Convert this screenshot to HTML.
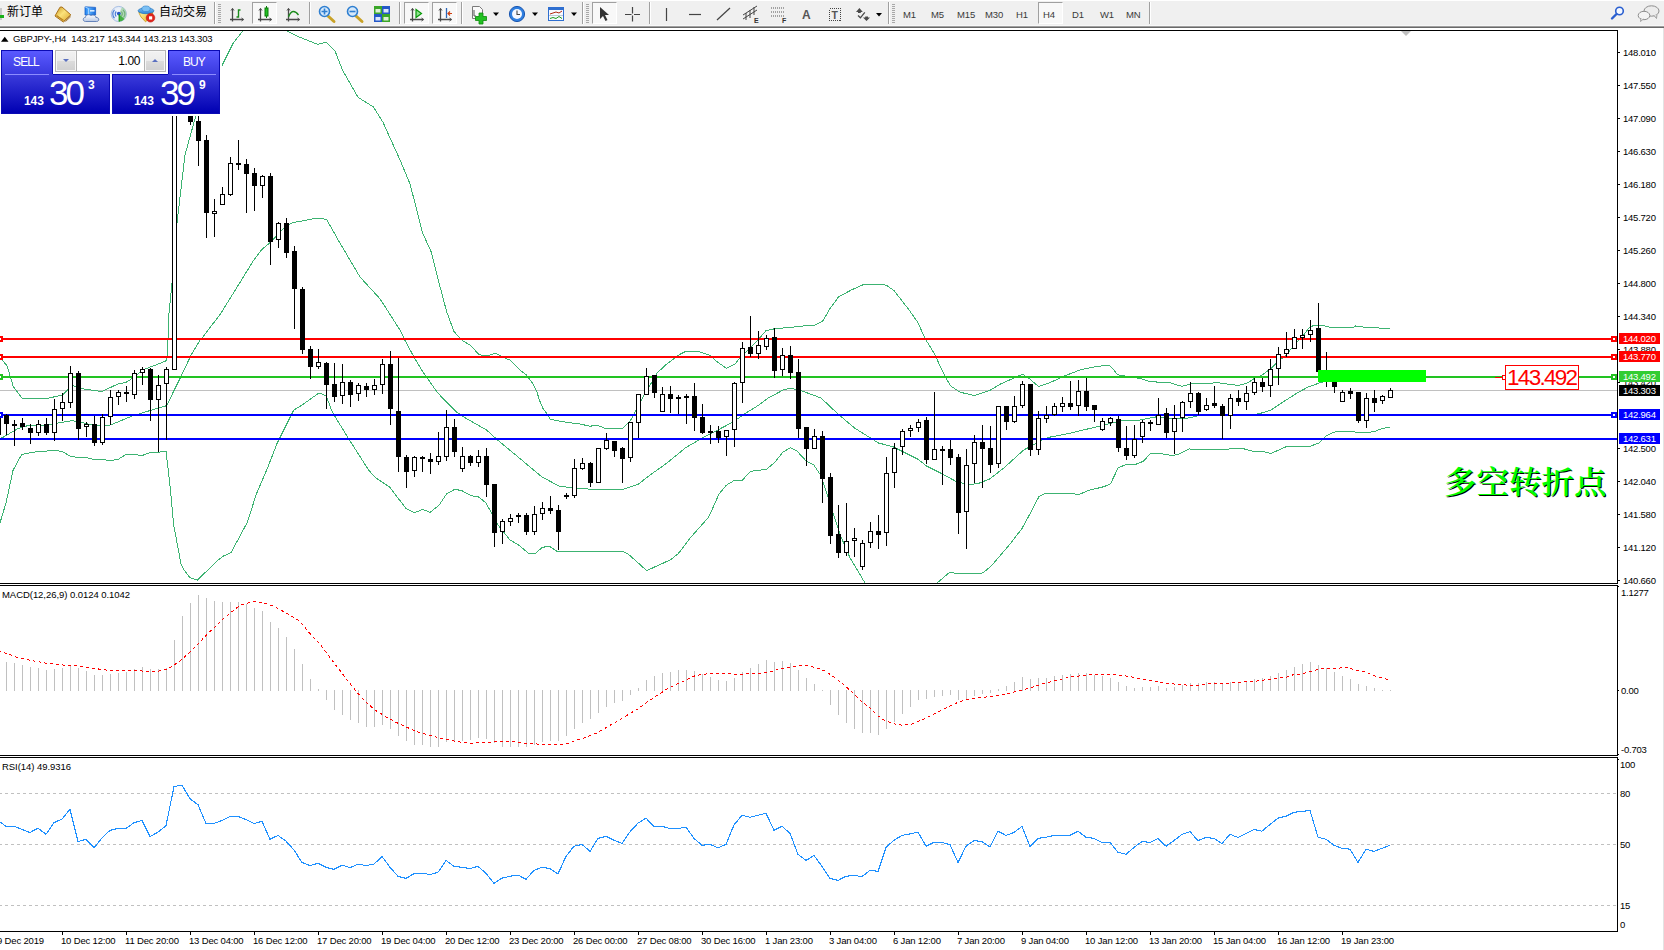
<!DOCTYPE html>
<html><head><meta charset="utf-8"><title>GBPJPY H4</title>
<style>
html,body{margin:0;padding:0}
body{width:1664px;height:950px;position:relative;overflow:hidden;background:#fff;font-family:"Liberation Sans","Noto Sans CJK SC",sans-serif}
#tb{position:absolute;left:0;top:0;width:1664px;height:28px;background:linear-gradient(#fff 0,#fff 1px,#f0f0f0 1px,#f0f0f0 25px,#f7f7f7 25px,#f7f7f7 26px,#a0a0a0 26px,#a0a0a0 27px,#696969 27px,#696969 28px)}
#tb .sep{position:absolute;top:2px;width:1px;height:22px;background:#a0a0a0;box-shadow:1px 0 0 #fff}
#tb .grip{position:absolute;top:4px;width:3px;height:19px;background:repeating-linear-gradient(#a8a8a8 0,#a8a8a8 1px,transparent 1px,transparent 2px)}
#tb .pr{position:absolute;top:2px;height:22px;box-sizing:border-box;border:1px solid #a0a0a0;border-right-color:#fff;border-bottom-color:#fff;background:#f8f8f8}
#tb .cn{position:absolute;font-size:12px;line-height:14px;color:#000;font-family:"Liberation Sans","Noto Sans CJK SC",sans-serif;white-space:nowrap}
#tb .pd{position:absolute;top:9px;font-size:9.5px;line-height:12px;color:#3a3a3a;letter-spacing:-.12px;white-space:nowrap}
#tb .ic{position:absolute;line-height:1;color:#333}
#tx{position:absolute;left:0;top:0;width:1664px;height:950px;pointer-events:none}
.t{position:absolute;white-space:nowrap;color:#000;font-size:9.5px;line-height:12px;letter-spacing:-.23px}
.t.wh{color:#fff;line-height:12px;height:11px;width:37px;padding-left:4px;overflow:hidden}
.t.tm{letter-spacing:-.17px}
.t.ind{letter-spacing:-.05px}
.t.ttl{letter-spacing:-.13px}
.t.big{font-size:22.5px;line-height:25px;color:#ff0000;letter-spacing:-1.7px}
.t.zh{font-family:"Liberation Serif","Noto Serif CJK SC",serif;font-weight:600;font-size:32.5px;line-height:44px;color:#00ff00;text-shadow:1px 1px 0 #000;letter-spacing:0;transform:scaleY(.94);transform-origin:0 0}
.tri{display:none}
#oc{position:absolute;left:0;top:0;width:222px;height:116px}
#oc:before{content:"";position:absolute;left:0;top:47px;width:222px;height:69px;background:#fff}
#oc .sell,#oc .buy{position:absolute;top:50px;height:25px;width:52px;box-sizing:border-box;border:1px solid #0a0ab4;border-bottom:none;background:linear-gradient(#5a5aff,#3838de);color:#fff;font-size:12px;text-align:center;line-height:22px;letter-spacing:-.9px}
#oc .sell{left:1px;text-indent:-2px}#oc .buy{left:168px}
#oc .pl,#oc .prr{position:absolute;top:74px;height:40px;box-sizing:border-box;border:1px solid #0a0ab4;border-top:none;background:linear-gradient(#3c3cdc,#0000b2);color:#fff}
#oc .pl{left:1px;width:109px}#oc .prr{left:112px;width:108px}
#oc .pl:before{content:"";position:absolute;left:51px;right:-1px;top:0;height:1px;background:#0a0ab4}
#oc .prr:before{content:"";position:absolute;left:-1px;width:56px;top:0;height:1px;background:#0a0ab4}
#oc .ul{position:absolute;top:74px;width:44px;height:1px;background:#8c8cff}
#oc .sm{position:absolute;font-size:12px;font-weight:bold;bottom:5px;letter-spacing:-.1px}
#oc .bg{position:absolute;font-size:35px;bottom:3px;line-height:35px;letter-spacing:-3px}
#oc .sp{position:absolute;font-size:12px;font-weight:bold;top:4px}
#oc .pl .sm{left:22px}#oc .pl .bg{left:47px}#oc .pl .sp{left:86px}
#oc .prr .sm{left:21px}#oc .prr .bg{left:47px}#oc .prr .sp{left:86px}
#oc .spin{position:absolute;left:55px;top:50px;width:111px;height:22px;box-sizing:border-box;border:1px solid #b4b4b4;background:#fff}
#oc .sb{position:absolute;top:0;width:20px;height:20px;box-shadow:inset 0 0 0 1px #f6f6f6;background:linear-gradient(#f2f2f2 0,#ebebeb 50%,#dcdcdc 50%,#d0d0d0);border:0 solid #b4b4b4}
#oc .sb.l{left:0;border-right-width:1px}#oc .sb.r{right:0;border-left-width:1px}
#oc .sb i{position:absolute;left:7px;top:8px;width:0;height:0;border-left:3px solid transparent;border-right:3px solid transparent}
#oc .sb i.dn{border-top:3px solid #5a70c0}#oc .sb i.up{border-bottom:3px solid #5a70c0;top:8px}
#oc .val{position:absolute;left:21px;right:25px;top:0;height:20px;line-height:20px;text-align:right;font-size:12px;color:#000;letter-spacing:-.4px}

</style></head>
<body>
<div id="tb">
<!-- separators / grips -->
<div class="sep" style="left:214px"></div><div class="grip" style="left:218px"></div>
<div class="sep" style="left:309px"></div>
<div class="sep" style="left:399px"></div>
<div class="sep" style="left:461px"></div>
<div class="sep" style="left:582px"></div><div class="grip" style="left:586px"></div>
<div class="sep" style="left:649px"></div>
<div class="sep" style="left:888px"></div><div class="grip" style="left:892px"></div>
<div class="sep" style="left:1149px"></div>
<!-- pressed buttons -->
<div class="pr" style="left:252px;width:25px"></div>
<div class="pr" style="left:404px;width:25px"></div>
<div class="pr" style="left:432px;width:25px"></div>
<div class="pr" style="left:592px;width:25px"></div>
<div class="pr" style="left:1038px;width:25px"></div>
<!-- texts -->
<div class="cn" style="left:7px;top:5px">新订单</div>
<div class="cn" style="left:159px;top:5px">自动交易</div>
<div class="pd" style="left:903px">M1</div><div class="pd" style="left:931px">M5</div><div class="pd" style="left:957px">M15</div>
<div class="pd" style="left:985px">M30</div><div class="pd" style="left:1016px">H1</div><div class="pd" style="left:1043px">H4</div>
<div class="pd" style="left:1072px">D1</div><div class="pd" style="left:1100px">W1</div><div class="pd" style="left:1126px">MN</div>
<svg width="1664" height="28" viewBox="0 0 1664 28" style="position:absolute;left:0;top:0">
<!-- new order partial icon -->
<rect x="0" y="8" width="2" height="12" fill="#c8c8c8"/><rect x="0" y="15" width="4" height="3" fill="#18b018"/>
<!-- book icon -->
<defs>
<linearGradient id="gbk" x1="0" y1="0" x2="1" y2="1"><stop offset="0" stop-color="#c8921c"/><stop offset=".45" stop-color="#fbe27a"/><stop offset="1" stop-color="#d9a22a"/></linearGradient>
<linearGradient id="gbx" x1="0" y1="0" x2="1" y2="0"><stop offset="0" stop-color="#1f7ff0"/><stop offset=".35" stop-color="#58b0ff"/><stop offset="1" stop-color="#1668d8"/></linearGradient>
<linearGradient id="gcl" x1="0" y1="0" x2="0" y2="1"><stop offset="0" stop-color="#ffffff"/><stop offset="1" stop-color="#b8c8e4"/></linearGradient>
<radialGradient id="gsg" cx=".5" cy=".5" r=".5"><stop offset="0" stop-color="#ffffff"/><stop offset="1" stop-color="#dfe8f6"/></radialGradient>
<linearGradient id="ght" x1="0" y1="0" x2="0" y2="1"><stop offset="0" stop-color="#7cc0f4"/><stop offset="1" stop-color="#2f86d8"/></linearGradient>
<linearGradient id="gyl" x1="0" y1="0" x2="1" y2="1"><stop offset="0" stop-color="#fff3a0"/><stop offset="1" stop-color="#e8b020"/></linearGradient>
</defs>
<path d="M55 16 L60 7.200 L62 7 L70.800 14.800 L63.300 22 Z" fill="url(#gbk)" stroke="#a8701a" stroke-width="1"/>
<path d="M64 21.300 L70.300 15.600 M65.500 21.500 L70.800 16.600" stroke="#9a6414" stroke-width=".8" fill="none"/>
<path d="M56.500 15.500 L63.500 20.500" stroke="#b8801c" stroke-width="1.200" fill="none"/>
<!-- cloud/server icon -->
<path d="M85 6.800 L95.600 7.400 L95.600 15 L85 15 Z" fill="url(#gbx)" stroke="#1a62c8" stroke-width=".8"/>
<path d="M85 6.800 L88.500 8.500 L88.500 15" stroke="#9fd0ff" stroke-width="1" fill="none"/>
<rect x="90" y="10" width="4.500" height="1.600" fill="#d6ebff"/>
<path d="M85.500 21.500 C82.500 21.500 82.500 17.500 85.500 17.300 C85.500 14.500 89.500 13.800 91 15.800 C92.500 14.300 96 15.200 95.800 17.400 C99.500 17.200 99.800 21.500 96.500 21.500 Z" fill="url(#gcl)" stroke="#5878b4" stroke-width=".9"/>
<!-- signal icon -->
<circle cx="118.800" cy="14" r="7.600" fill="url(#gsg)" stroke="#a9c0e4" stroke-width="1"/>
<path d="M118.800 14 L118.800 21.600 A7.600 7.600 0 0 0 126.400 14 A7.600 7.600 0 0 0 122 7.100 Z" fill="#9fd0a0" opacity=".75"/>
<path d="M118.800 14 L118.800 21.600 A7.600 7.600 0 0 0 124.500 19 Z" fill="#44b044"/>
<path d="M114.500 9.800 A6 6 0 0 0 114.500 18.200 M116.300 11.500 A3.500 3.500 0 0 0 116.300 16.500" fill="none" stroke="#4a7fd8" stroke-width="1.200"/>
<path d="M123 9.800 A6 6 0 0 1 123.500 17.500 M121.300 11.500 A3.500 3.500 0 0 1 121.500 16" fill="none" stroke="#6fb07a" stroke-width="1.100"/>
<circle cx="118.800" cy="13.600" r="1.900" fill="#2858c8"/>
<path d="M119.300 14v7.500" stroke="#1e9a1e" stroke-width="1.200"/>
<!-- autotrading icon -->
<path d="M138.800 12.500 L153 12.500 L151 17 L145.500 21.800 L141 17 Z" fill="url(#gyl)" stroke="#c89a18" stroke-width=".8"/>
<ellipse cx="146" cy="10.800" rx="7.900" ry="2.900" fill="url(#ght)" stroke="#2a78c0" stroke-width=".8"/>
<ellipse cx="146" cy="8.800" rx="4.200" ry="2.800" fill="#7cc0f4" stroke="#3a8ad0" stroke-width=".7"/>
<circle cx="150.500" cy="17.800" r="4.300" fill="#e0241c" stroke="#c01810" stroke-width=".6"/><rect x="149" y="16.300" width="3.200" height="3.200" fill="#fff"/>
<!-- chart-type icons -->
<g stroke="#4a4a4a" stroke-width="1.3" fill="none">
<path d="M232.500 8.500V21.500M230 19.500H243.500"/><path d="M231 10.500l1.500-2 1.500 2M241.500 18l2 1.500-2 1.500" stroke-width="1"/>
<path d="M260.500 8.500V21.500M258 19.500H271.500"/><path d="M259 10.500l1.500-2 1.500 2M269.500 18l2 1.500-2 1.500" stroke-width="1"/>
<path d="M288.500 8.500V21.500M286 19.500H299.500"/><path d="M287 10.500l1.500-2 1.500 2M297.500 18l2 1.500-2 1.500" stroke-width="1"/>
<path d="M412.500 8.500V21.500M410 19.500H423.500"/><path d="M411 10.500l1.500-2 1.500 2M421.500 18l2 1.500-2 1.500" stroke-width="1"/>
<path d="M440.500 8.500V21.500M438 19.500H451.500"/><path d="M439 10.500l1.500-2 1.500 2M449.500 18l2 1.500-2 1.500" stroke-width="1"/>
</g>
<path d="M236.500 17h2v-7h2" stroke="#1a8a1a" stroke-width="1.4" fill="none"/>
<rect x="265" y="8" width="3" height="8" fill="#22c022" stroke="#0a7a0a" stroke-width="1"/><path d="M266.500 6v2M266.500 16v2" stroke="#0a7a0a"/>
<path d="M288.500 17c3-8 7-6 10-2" stroke="#1a8a1a" stroke-width="1.3" fill="none"/>
<polygon points="416,9.500 416,17.500 421.500,13.500" fill="#8fe08f" stroke="#0a9a0a" stroke-width="1.2"/>
<path d="M446.500 8v10" stroke="#2a66b8" stroke-width="1.3"/><path d="M452 13.500h-4M450 11.500l-2 2 2 2" stroke="#d04010" stroke-width="1.2" fill="none"/>
<!-- zoom in / out -->
<path d="M328 16l6 5.500" stroke="#c9a227" stroke-width="3" stroke-linecap="round"/><circle cx="324.500" cy="11.500" r="5" fill="#d6e9fb" stroke="#2f7fd0" stroke-width="1.6"/><path d="M321.500 11.500h6M324.500 8.500v6" stroke="#2f7fd0" stroke-width="1.6"/>
<path d="M356 16l6 5.500" stroke="#c9a227" stroke-width="3" stroke-linecap="round"/><circle cx="352.500" cy="11.500" r="5" fill="#d6e9fb" stroke="#2f7fd0" stroke-width="1.6"/><path d="M349.500 11.500h6" stroke="#2f7fd0" stroke-width="1.6"/>
<!-- tile -->
<rect x="374" y="6" width="8" height="8" fill="#3aa628"/><rect x="382" y="6" width="8" height="8" fill="#2458c8"/><rect x="374" y="14" width="8" height="8" fill="#2458c8"/><rect x="382" y="14" width="8" height="8" fill="#3aa628"/>
<rect x="375.500" y="9" width="5" height="3.500" fill="#dff0d8"/><rect x="383.500" y="9" width="5" height="3.500" fill="#dbe6fb"/><rect x="375.500" y="17" width="5" height="3.500" fill="#dbe6fb"/><rect x="383.500" y="17" width="5" height="3.500" fill="#dff0d8"/>
<!-- new chart -->
<path d="M472.500 6.500h7l3 3v9h-10z" fill="#fafafa" stroke="#7a7a7a"/><path d="M474 10v6h2" stroke="#555" fill="none"/>
<path d="M475.500 16.500h3.500v-3.500h4v3.500h3.500v4h-3.500v3.500h-4v-3.500h-3.500z" fill="#22c022" stroke="#0a8a0a" stroke-width=".8"/>
<polygon points="493,12.500 499,12.500 496,16" fill="#000"/>
<!-- clock -->
<circle cx="517" cy="14" r="7.600" fill="#2f7fe0" stroke="#1a56b0"/><circle cx="517" cy="14" r="5" fill="#f4f8ff"/><path d="M517 10.500v4h3" stroke="#444" stroke-width="1.1" fill="none"/>
<polygon points="532,12.500 538,12.500 535,16" fill="#000"/>
<!-- template -->
<rect x="548.500" y="7.500" width="15" height="13" fill="#f6f9ff" stroke="#2f6fd0"/><rect x="548.500" y="7.500" width="15" height="2.500" fill="#2f6fd0"/><path d="M550 14l3-1 3-1 3 1 3-2" stroke="#b02a10" fill="none"/><path d="M550 18.500l3-1 3 1 3-2 3 2" stroke="#1a9a1a" fill="none"/><path d="M549 15.500h14" stroke="#9ab" stroke-width=".6"/>
<polygon points="571,12.500 577,12.500 574,16" fill="#000"/>
<!-- cursor -->
<path d="M600 7v12l3-3 2.500 5 2-1-2.500-5h4z" fill="#333"/>
<!-- crosshair -->
<path d="M632.500 7v6.500M632.500 15.500v6M625 14.500h6.500M634 14.500h6" stroke="#444" stroke-width="1.200"/>
<!-- line tools -->
<path d="M666.500 8v13" stroke="#444" stroke-width="1.2"/><path d="M689 14.500h12" stroke="#444" stroke-width="1.2"/><path d="M717 20l13-12" stroke="#444" stroke-width="1.2"/>
<path d="M743 19l14-9M743 15l14-9M746 20v-7M750 18v-8M754 15v-8" stroke="#444" stroke-width="1"/>
<path d="M771 8h14M771 12h14M771 16h14" stroke="#555" stroke-width="1" stroke-dasharray="1,1"/>
<path d="M829.500 8.500h11v12h-11z" stroke="#444" fill="none" stroke-dasharray="1,1" shape-rendering="crispEdges"/>
<path d="M856 12l3.400-3.900 3.400 3.900h-2v.9h-2.800v-.9zM863 17.600l3.500 3.500 3.500-3.500h-2v-1h-2.800v1z" fill="#4a4a4a"/><path d="M858 15.500l2.400 2.300 4.400-5.500" stroke="#4a4a4a" stroke-width="1.300" fill="none"/>
<polygon points="876,13 882,13 879,16.500" fill="#000"/>
<!-- search -->
<circle cx="1619.500" cy="11" r="3.800" fill="#f4f8ff" stroke="#2a5fd0" stroke-width="1.600"/><path d="M1616.500 14l-4.500 4.500" stroke="#2a5fd0" stroke-width="2.400" stroke-linecap="round"/>
<!-- chat -->
<ellipse cx="1651.500" cy="11" rx="7.500" ry="5.200" fill="#ececec" stroke="#8e8e8e"/><path d="M1654 15.500l2.500 3 .5-4" fill="#e4e4e4" stroke="#8e8e8e" stroke-width=".8"/>
<ellipse cx="1644" cy="15.500" rx="5.800" ry="4.200" fill="#f4f4f4" stroke="#8e8e8e"/><path d="M1641 18.500l-.5 3 3-2.500" fill="#f4f4f4" stroke="#8e8e8e" stroke-width=".8"/>
</svg>
<div class="ic" style="left:754px;top:16.500px;font-size:7px;font-weight:bold">E</div>
<div class="ic" style="left:782px;top:17px;font-size:7px;font-weight:bold">F</div>
<div class="ic" style="left:802px;top:9px;font-size:12px;font-weight:bold;color:#555">A</div>
<div class="ic" style="left:831.500px;top:9.800px;font-size:10.500px;font-weight:bold;color:#555">T</div>
</div>

<svg width="1664" height="950" viewBox="0 0 1664 950" style="position:absolute;left:0;top:0"><defs><clipPath id="cm"><rect x="0" y="31" width="1617" height="552"/></clipPath><clipPath id="cd"><rect x="0" y="586" width="1617" height="169"/></clipPath><clipPath id="cr"><rect x="0" y="758" width="1617" height="173"/></clipPath></defs>
<g shape-rendering="crispEdges" fill="#000">
<rect x="0" y="30" width="1618" height="1"/>
<rect x="0" y="583" width="1618" height="1"/>
<rect x="0" y="585" width="1618" height="1"/>
<rect x="0" y="755" width="1618" height="1"/>
<rect x="0" y="757" width="1618" height="1"/>
<rect x="0" y="931" width="1618" height="1"/>
<rect x="1617" y="30" width="1" height="902"/>
<rect x="1617" y="584" width="1" height="1" fill="#fff"/>
<rect x="1617" y="756" width="1" height="1" fill="#fff"/>
</g>
<g clip-path="url(#cm)">
<rect x="0" y="390" width="1617" height="1" fill="#c0c0c0" shape-rendering="crispEdges"/>
<polyline points="-2.0,356.0 0.0,357.6 7.2,366.0 13.2,386.5 22.2,398.5 46.9,398.5 62.5,395.0 68.5,389.0 73.3,385.9 84.0,389.0 102.0,391.5 117.8,384.0 126.2,382.3 134.6,376.9 143.0,369.7 156.2,364.9 166.5,360.6 167.7,351.6 168.3,330.0 169.0,313.6 172.0,283.0 176.8,225.0 178.3,211.7 185.0,155.0 195.6,116.5 210.0,85.0 222.5,64.6 233.0,43.5 242.7,31.0 255.0,22.0 275.0,22.0 287.0,31.0 298.5,36.7 317.7,44.4 326.3,42.0 335.0,51.0 342.7,70.4 358.0,97.3 373.5,107.0 383.0,122.3 400.4,160.8 410.0,183.8 414.2,200.0 422.4,232.5 431.4,252.3 439.5,284.7 446.7,311.8 454.0,331.6 462.5,340.6 469.7,344.8 479.3,354.7 483.0,355.6 489.0,355.6 495.0,353.0 499.8,355.6 504.6,358.0 510.6,360.4 521.4,371.2 526.2,374.9 533.4,384.5 536.4,390.5 539.4,400.0 543.0,408.5 546.6,413.3 550.2,419.0 556.2,420.5 570.7,422.9 580.3,424.0 590.0,426.3 597.0,425.0 605.6,428.7 622.5,428.7 631.0,419.7 641.7,399.3 657.3,372.8 667.0,363.8 679.0,354.8 686.0,351.2 698.0,351.2 710.0,355.4 717.4,362.0 726.4,368.3 735.5,363.7 739.7,357.7 748.0,349.9 756.5,341.5 766.0,330.6 774.5,328.8 793.8,327.0 800.0,326.2 814.4,325.3 822.8,321.0 830.0,308.5 838.5,297.0 850.5,290.4 862.5,285.0 867.3,284.2 881.7,284.2 886.5,285.4 893.8,290.4 908.0,308.5 917.8,322.3 925.0,338.5 934.0,353.0 944.2,374.6 947.0,380.0 950.7,386.0 960.0,392.2 974.4,395.5 990.0,390.4 999.7,384.4 1022.5,374.2 1029.7,379.0 1038.7,386.6 1050.0,382.6 1065.8,375.4 1080.0,370.0 1092.0,367.3 1104.0,365.5 1110.0,366.0 1113.8,370.0 1117.5,374.8 1140.0,378.4 1149.6,381.6 1170.0,382.8 1182.0,386.4 1190.5,384.0 1218.0,382.8 1238.5,385.5 1248.0,382.8 1254.4,378.3 1261.6,375.3 1270.0,369.3 1278.5,361.0 1286.3,355.0 1294.0,345.3 1302.5,336.3 1309.7,327.2 1314.5,325.2 1321.7,325.2 1331.3,327.5 1353.0,327.5 1355.4,326.0 1362.6,327.0 1378.0,327.5 1380.0,328.5 1389.6,328.2" fill="none" stroke="#3cb371" stroke-width="1" shape-rendering="crispEdges"/>
<polyline points="-2.0,439.0 3.6,437.0 18.0,428.5 30.0,425.0 48.0,425.0 57.7,423.0 72.0,420.7 84.0,423.0 92.5,425.0 102.0,425.5 110.6,425.0 132.2,416.0 150.2,410.5 166.5,405.7 180.3,378.0 191.0,355.2 200.0,340.2 202.4,337.5 220.4,314.0 234.5,291.3 253.8,260.0 262.0,249.3 270.0,242.7 282.6,229.4 292.0,222.8 316.0,218.3 326.5,219.2 338.0,239.7 360.0,277.0 380.0,298.8 399.8,329.8 404.8,340.0 413.2,355.6 421.6,370.0 436.0,390.5 442.0,397.7 455.3,411.0 462.5,416.3 486.5,430.0 496.0,438.5 497.6,440.0 520.5,459.0 542.0,477.0 559.0,486.0 572.0,488.0 588.0,489.0 624.0,489.0 638.0,484.5 650.0,475.0 665.7,464.0 686.0,447.4 703.0,437.7 731.8,422.7 746.0,413.0 757.7,405.8 767.3,398.6 784.0,389.5 791.0,388.2 801.6,390.8 821.0,398.0 837.7,413.7 854.5,428.0 878.5,443.0 893.0,446.7 918.0,459.3 926.6,466.0 942.0,473.8 956.0,481.4 968.0,484.7 978.0,483.6 990.0,478.8 1004.5,467.4 1023.7,450.0 1032.0,445.7 1041.7,440.3 1049.0,437.3 1068.0,433.7 1098.0,426.5 1120.0,421.0 1140.0,420.0 1155.6,417.0 1172.5,418.9 1184.5,418.9 1200.0,415.3 1248.0,415.9 1260.0,413.5 1271.0,410.0 1282.0,402.7 1296.0,393.7 1308.0,387.0 1320.0,382.8 1326.0,381.4 1340.0,379.5 1360.0,378.5 1390.0,378.0" fill="none" stroke="#3cb371" stroke-width="1" shape-rendering="crispEdges"/>
<polyline points="-2.0,535.0 0.0,522.8 6.0,503.0 13.0,470.5 21.6,454.6 30.0,452.7 38.0,451.5 46.0,451.2 54.0,450.0 62.0,451.5 70.0,456.0 78.0,457.5 86.0,457.5 94.0,459.4 102.0,459.4 110.0,460.6 118.0,459.4 126.0,454.6 134.0,454.4 142.0,455.6 150.0,452.5 158.0,452.2 166.0,451.3 168.0,468.0 170.7,492.0 173.5,523.8 181.0,564.0 184.0,570.0 189.8,577.7 197.5,580.0 217.7,560.4 223.5,556.0 231.0,552.7 247.5,522.0 256.0,495.0 266.7,470.0 277.4,442.6 293.7,410.0 300.0,406.4 304.0,403.6 319.0,393.0 326.0,395.6 332.5,412.5 348.0,437.7 368.6,470.0 375.4,477.7 389.8,487.3 406.0,508.5 414.8,512.7 422.5,509.4 430.0,512.3 438.8,505.6 446.5,494.0 455.0,489.2 462.0,490.8 470.6,495.5 478.4,497.0 485.6,502.5 491.6,513.0 498.0,525.0 510.0,540.0 518.0,544.6 529.0,553.6 535.0,553.6 542.0,547.6 549.0,546.0 558.0,552.0 604.6,551.6 623.3,551.4 628.6,554.4 646.7,570.6 670.7,559.7 678.3,553.6 690.3,537.8 708.4,517.5 712.9,507.7 718.9,494.2 726.4,485.2 734.0,480.6 742.2,480.3 750.5,471.3 766.3,469.4 774.6,462.6 782.9,452.0 790.4,447.8 797.2,451.3 806.2,461.0 813.7,464.8 821.2,476.0 827.3,495.0 833.3,513.8 840.8,536.3 849.8,557.4 865.0,583.0 880.0,596.0 920.0,596.0 937.0,583.0 950.0,572.0 957.5,574.0 982.7,573.0 990.8,566.4 995.6,561.0 1010.0,544.0 1022.0,528.5 1030.5,512.9 1038.9,496.7 1045.5,493.4 1073.8,493.4 1076.0,494.6 1079.8,494.2 1088.0,490.6 1103.8,486.7 1110.4,484.0 1118.2,467.8 1125.4,464.8 1135.0,464.6 1143.5,461.2 1150.8,453.0 1161.6,453.8 1172.5,455.6 1179.7,453.8 1189.0,449.0 1224.0,449.5 1236.0,448.3 1242.0,448.3 1254.0,451.6 1263.8,451.6 1271.0,453.5 1286.6,446.5 1296.0,446.0 1301.0,447.0 1310.7,446.0 1319.0,443.0 1326.0,436.0 1333.7,432.4 1338.8,431.0 1354.0,431.0 1355.6,432.5 1369.0,432.5 1375.8,431.0 1382.5,428.3 1390.0,427.3" fill="none" stroke="#3cb371" stroke-width="1" shape-rendering="crispEdges"/>
<g shape-rendering="crispEdges">
<rect x="0" y="338" width="1617" height="2" fill="#ff0000"/>
<rect x="0" y="356" width="1617" height="2" fill="#ff0000"/>
<rect x="0" y="376" width="1617" height="2" fill="#22c322"/>
<rect x="0" y="414" width="1617" height="2" fill="#0000ff"/>
<rect x="0" y="438" width="1617" height="2" fill="#0000ff"/>
</g>
<g shape-rendering="crispEdges">
<rect x="-4" y="415" width="5" height="20" fill="#000"/>
<rect x="6" y="414" width="1" height="21" fill="#000"/><rect x="4" y="415" width="5" height="9" fill="#000"/>
<rect x="14" y="420" width="1" height="26" fill="#000"/><rect x="12" y="424" width="5" height="2" fill="#000"/>
<rect x="22" y="418" width="1" height="12" fill="#000"/><rect x="20" y="423" width="5" height="4" fill="#000"/>
<rect x="30" y="424" width="1" height="20" fill="#000"/><rect x="28" y="428" width="5" height="5" fill="#000"/>
<rect x="38" y="420" width="1" height="16" fill="#000"/><rect x="36" y="424" width="5" height="9" fill="#000"/><rect x="37" y="425" width="3" height="7" fill="#fff"/>
<rect x="46" y="418" width="1" height="17" fill="#000"/><rect x="44" y="424" width="5" height="9" fill="#000"/>
<rect x="54" y="399" width="1" height="42" fill="#000"/><rect x="52" y="409" width="5" height="24" fill="#000"/><rect x="53" y="410" width="3" height="22" fill="#fff"/>
<rect x="62" y="393" width="1" height="28" fill="#000"/><rect x="60" y="402" width="5" height="7" fill="#000"/><rect x="61" y="403" width="3" height="5" fill="#fff"/>
<rect x="70" y="366" width="1" height="42" fill="#000"/><rect x="68" y="373" width="5" height="30" fill="#000"/><rect x="69" y="374" width="3" height="28" fill="#fff"/>
<rect x="78" y="371" width="1" height="69" fill="#000"/><rect x="76" y="373" width="5" height="56" fill="#000"/>
<rect x="86" y="422" width="1" height="15" fill="#000"/><rect x="84" y="424" width="5" height="3" fill="#000"/><rect x="85" y="425" width="3" height="1" fill="#fff"/>
<rect x="94" y="416" width="1" height="30" fill="#000"/><rect x="92" y="424" width="5" height="19" fill="#000"/>
<rect x="102" y="414" width="1" height="31" fill="#000"/><rect x="100" y="417" width="5" height="26" fill="#000"/><rect x="101" y="418" width="3" height="24" fill="#fff"/>
<rect x="110" y="390" width="1" height="35" fill="#000"/><rect x="108" y="397" width="5" height="20" fill="#000"/><rect x="109" y="398" width="3" height="18" fill="#fff"/>
<rect x="118" y="390" width="1" height="15" fill="#000"/><rect x="116" y="392" width="5" height="5" fill="#000"/><rect x="117" y="393" width="3" height="3" fill="#fff"/>
<rect x="126" y="386" width="1" height="16" fill="#000"/><rect x="124" y="392" width="5" height="2" fill="#000"/>
<rect x="134" y="370" width="1" height="29" fill="#000"/><rect x="132" y="373" width="5" height="22" fill="#000"/><rect x="133" y="374" width="3" height="20" fill="#fff"/>
<rect x="142" y="367" width="1" height="18" fill="#000"/><rect x="140" y="369" width="5" height="4" fill="#000"/><rect x="141" y="370" width="3" height="2" fill="#fff"/>
<rect x="150" y="368" width="1" height="53" fill="#000"/><rect x="148" y="369" width="5" height="31" fill="#000"/>
<rect x="158" y="375" width="1" height="77" fill="#000"/><rect x="156" y="385" width="5" height="15" fill="#000"/><rect x="157" y="386" width="3" height="13" fill="#fff"/>
<rect x="166" y="367" width="1" height="73" fill="#000"/><rect x="164" y="369" width="5" height="15" fill="#000"/><rect x="165" y="370" width="3" height="13" fill="#fff"/>
<rect x="174" y="60" width="1" height="310" fill="#000"/><rect x="172" y="64" width="5" height="306" fill="#000"/><rect x="173" y="65" width="3" height="304" fill="#fff"/>
<rect x="182" y="58" width="1" height="46" fill="#000"/><rect x="180" y="64" width="5" height="36" fill="#000"/><rect x="181" y="65" width="3" height="34" fill="#fff"/>
<rect x="190" y="100" width="1" height="25" fill="#000"/><rect x="188" y="104" width="5" height="18" fill="#000"/>
<rect x="198" y="110" width="1" height="56" fill="#000"/><rect x="196" y="121" width="5" height="20" fill="#000"/>
<rect x="206" y="135" width="1" height="103" fill="#000"/><rect x="204" y="140" width="5" height="73" fill="#000"/>
<rect x="214" y="199" width="1" height="38" fill="#000"/><rect x="212" y="211" width="5" height="3" fill="#000"/><rect x="213" y="212" width="3" height="1" fill="#fff"/>
<rect x="222" y="187" width="1" height="18" fill="#000"/><rect x="220" y="194" width="5" height="11" fill="#000"/><rect x="221" y="195" width="3" height="9" fill="#fff"/>
<rect x="230" y="157" width="1" height="39" fill="#000"/><rect x="228" y="163" width="5" height="32" fill="#000"/><rect x="229" y="164" width="3" height="30" fill="#fff"/>
<rect x="238" y="140" width="1" height="30" fill="#000"/><rect x="236" y="163" width="5" height="2" fill="#000"/>
<rect x="246" y="159" width="1" height="54" fill="#000"/><rect x="244" y="164" width="5" height="10" fill="#000"/>
<rect x="254" y="168" width="1" height="43" fill="#000"/><rect x="252" y="173" width="5" height="13" fill="#000"/>
<rect x="262" y="175" width="1" height="23" fill="#000"/><rect x="260" y="176" width="5" height="10" fill="#000"/><rect x="261" y="177" width="3" height="8" fill="#fff"/>
<rect x="270" y="173" width="1" height="92" fill="#000"/><rect x="268" y="176" width="5" height="66" fill="#000"/>
<rect x="278" y="222" width="1" height="26" fill="#000"/><rect x="276" y="223" width="5" height="17" fill="#000"/><rect x="277" y="224" width="3" height="15" fill="#fff"/>
<rect x="286" y="218" width="1" height="40" fill="#000"/><rect x="284" y="223" width="5" height="30" fill="#000"/>
<rect x="294" y="246" width="1" height="83" fill="#000"/><rect x="292" y="251" width="5" height="38" fill="#000"/>
<rect x="302" y="287" width="1" height="67" fill="#000"/><rect x="300" y="289" width="5" height="61" fill="#000"/>
<rect x="310" y="346" width="1" height="33" fill="#000"/><rect x="308" y="349" width="5" height="18" fill="#000"/>
<rect x="318" y="349" width="1" height="20" fill="#000"/><rect x="316" y="362" width="5" height="5" fill="#000"/><rect x="317" y="363" width="3" height="3" fill="#fff"/>
<rect x="326" y="362" width="1" height="47" fill="#000"/><rect x="324" y="363" width="5" height="22" fill="#000"/>
<rect x="334" y="363" width="1" height="39" fill="#000"/><rect x="332" y="384" width="5" height="13" fill="#000"/>
<rect x="342" y="364" width="1" height="40" fill="#000"/><rect x="340" y="382" width="5" height="14" fill="#000"/><rect x="341" y="383" width="3" height="12" fill="#fff"/>
<rect x="350" y="380" width="1" height="27" fill="#000"/><rect x="348" y="382" width="5" height="13" fill="#000"/>
<rect x="358" y="383" width="1" height="18" fill="#000"/><rect x="356" y="385" width="5" height="9" fill="#000"/><rect x="357" y="386" width="3" height="7" fill="#fff"/>
<rect x="366" y="383" width="1" height="14" fill="#000"/><rect x="364" y="386" width="5" height="4" fill="#000"/>
<rect x="374" y="379" width="1" height="16" fill="#000"/><rect x="372" y="385" width="5" height="5" fill="#000"/><rect x="373" y="386" width="3" height="3" fill="#fff"/>
<rect x="382" y="359" width="1" height="35" fill="#000"/><rect x="380" y="364" width="5" height="21" fill="#000"/><rect x="381" y="365" width="3" height="19" fill="#fff"/>
<rect x="390" y="351" width="1" height="74" fill="#000"/><rect x="388" y="364" width="5" height="45" fill="#000"/>
<rect x="398" y="358" width="1" height="114" fill="#000"/><rect x="396" y="411" width="5" height="46" fill="#000"/>
<rect x="406" y="455" width="1" height="33" fill="#000"/><rect x="404" y="457" width="5" height="15" fill="#000"/>
<rect x="414" y="456" width="1" height="21" fill="#000"/><rect x="412" y="457" width="5" height="14" fill="#000"/><rect x="413" y="458" width="3" height="12" fill="#fff"/>
<rect x="422" y="456" width="1" height="16" fill="#000"/><rect x="420" y="457" width="5" height="2" fill="#000"/>
<rect x="430" y="453" width="1" height="21" fill="#000"/><rect x="428" y="459" width="5" height="3" fill="#000"/>
<rect x="438" y="432" width="1" height="33" fill="#000"/><rect x="436" y="456" width="5" height="6" fill="#000"/><rect x="437" y="457" width="3" height="4" fill="#fff"/>
<rect x="446" y="410" width="1" height="51" fill="#000"/><rect x="444" y="427" width="5" height="30" fill="#000"/><rect x="445" y="428" width="3" height="28" fill="#fff"/>
<rect x="454" y="419" width="1" height="38" fill="#000"/><rect x="452" y="427" width="5" height="25" fill="#000"/>
<rect x="462" y="447" width="1" height="25" fill="#000"/><rect x="460" y="456" width="5" height="13" fill="#000"/><rect x="461" y="457" width="3" height="11" fill="#fff"/>
<rect x="470" y="455" width="1" height="11" fill="#000"/><rect x="468" y="456" width="5" height="7" fill="#000"/>
<rect x="478" y="450" width="1" height="17" fill="#000"/><rect x="476" y="456" width="5" height="7" fill="#000"/><rect x="477" y="457" width="3" height="5" fill="#fff"/>
<rect x="486" y="448" width="1" height="49" fill="#000"/><rect x="484" y="456" width="5" height="29" fill="#000"/>
<rect x="494" y="484" width="1" height="63" fill="#000"/><rect x="492" y="484" width="5" height="49" fill="#000"/>
<rect x="502" y="519" width="1" height="25" fill="#000"/><rect x="500" y="521" width="5" height="11" fill="#000"/><rect x="501" y="522" width="3" height="9" fill="#fff"/>
<rect x="510" y="514" width="1" height="12" fill="#000"/><rect x="508" y="518" width="5" height="4" fill="#000"/><rect x="509" y="519" width="3" height="2" fill="#fff"/>
<rect x="518" y="513" width="1" height="10" fill="#000"/><rect x="516" y="515" width="5" height="2" fill="#000"/>
<rect x="526" y="513" width="1" height="22" fill="#000"/><rect x="524" y="515" width="5" height="17" fill="#000"/>
<rect x="534" y="506" width="1" height="29" fill="#000"/><rect x="532" y="514" width="5" height="18" fill="#000"/><rect x="533" y="515" width="3" height="16" fill="#fff"/>
<rect x="542" y="502" width="1" height="18" fill="#000"/><rect x="540" y="508" width="5" height="6" fill="#000"/><rect x="541" y="509" width="3" height="4" fill="#fff"/>
<rect x="550" y="496" width="1" height="18" fill="#000"/><rect x="548" y="508" width="5" height="3" fill="#000"/>
<rect x="558" y="505" width="1" height="45" fill="#000"/><rect x="556" y="510" width="5" height="22" fill="#000"/>
<rect x="566" y="493" width="1" height="6" fill="#000"/><rect x="564" y="495" width="5" height="2" fill="#000"/>
<rect x="574" y="459" width="1" height="39" fill="#000"/><rect x="572" y="468" width="5" height="28" fill="#000"/><rect x="573" y="469" width="3" height="26" fill="#fff"/>
<rect x="582" y="458" width="1" height="12" fill="#000"/><rect x="580" y="463" width="5" height="6" fill="#000"/><rect x="581" y="464" width="3" height="4" fill="#fff"/>
<rect x="590" y="462" width="1" height="25" fill="#000"/><rect x="588" y="463" width="5" height="20" fill="#000"/>
<rect x="598" y="448" width="1" height="35" fill="#000"/><rect x="596" y="448" width="5" height="35" fill="#000"/><rect x="597" y="449" width="3" height="33" fill="#fff"/>
<rect x="606" y="433" width="1" height="17" fill="#000"/><rect x="604" y="440" width="5" height="9" fill="#000"/><rect x="605" y="441" width="3" height="7" fill="#fff"/>
<rect x="614" y="441" width="1" height="16" fill="#000"/><rect x="612" y="441" width="5" height="10" fill="#000"/>
<rect x="622" y="447" width="1" height="36" fill="#000"/><rect x="620" y="448" width="5" height="11" fill="#000"/>
<rect x="630" y="422" width="1" height="40" fill="#000"/><rect x="628" y="422" width="5" height="36" fill="#000"/><rect x="629" y="423" width="3" height="34" fill="#fff"/>
<rect x="638" y="394" width="1" height="44" fill="#000"/><rect x="636" y="394" width="5" height="29" fill="#000"/><rect x="637" y="395" width="3" height="27" fill="#fff"/>
<rect x="646" y="368" width="1" height="27" fill="#000"/><rect x="644" y="376" width="5" height="19" fill="#000"/><rect x="645" y="377" width="3" height="17" fill="#fff"/>
<rect x="654" y="375" width="1" height="23" fill="#000"/><rect x="652" y="375" width="5" height="18" fill="#000"/>
<rect x="662" y="387" width="1" height="25" fill="#000"/><rect x="660" y="394" width="5" height="18" fill="#000"/><rect x="661" y="395" width="3" height="16" fill="#fff"/>
<rect x="670" y="386" width="1" height="27" fill="#000"/><rect x="668" y="394" width="5" height="5" fill="#000"/>
<rect x="678" y="395" width="1" height="19" fill="#000"/><rect x="676" y="397" width="5" height="2" fill="#000"/>
<rect x="686" y="394" width="1" height="30" fill="#000"/><rect x="684" y="396" width="5" height="2" fill="#000"/>
<rect x="694" y="383" width="1" height="48" fill="#000"/><rect x="692" y="396" width="5" height="22" fill="#000"/>
<rect x="702" y="404" width="1" height="30" fill="#000"/><rect x="700" y="417" width="5" height="16" fill="#000"/>
<rect x="710" y="425" width="1" height="19" fill="#000"/><rect x="708" y="431" width="5" height="2" fill="#000"/>
<rect x="718" y="426" width="1" height="17" fill="#000"/><rect x="716" y="431" width="5" height="7" fill="#000"/>
<rect x="726" y="430" width="1" height="26" fill="#000"/><rect x="724" y="430" width="5" height="7" fill="#000"/><rect x="725" y="431" width="3" height="5" fill="#fff"/>
<rect x="734" y="382" width="1" height="65" fill="#000"/><rect x="732" y="383" width="5" height="47" fill="#000"/><rect x="733" y="384" width="3" height="45" fill="#fff"/>
<rect x="742" y="342" width="1" height="61" fill="#000"/><rect x="740" y="348" width="5" height="35" fill="#000"/><rect x="741" y="349" width="3" height="33" fill="#fff"/>
<rect x="750" y="316" width="1" height="41" fill="#000"/><rect x="748" y="347" width="5" height="7" fill="#000"/>
<rect x="758" y="331" width="1" height="28" fill="#000"/><rect x="756" y="345" width="5" height="9" fill="#000"/><rect x="757" y="346" width="3" height="7" fill="#fff"/>
<rect x="766" y="335" width="1" height="15" fill="#000"/><rect x="764" y="338" width="5" height="9" fill="#000"/><rect x="765" y="339" width="3" height="7" fill="#fff"/>
<rect x="774" y="328" width="1" height="50" fill="#000"/><rect x="772" y="337" width="5" height="34" fill="#000"/>
<rect x="782" y="348" width="1" height="28" fill="#000"/><rect x="780" y="355" width="5" height="15" fill="#000"/><rect x="781" y="356" width="3" height="13" fill="#fff"/>
<rect x="790" y="346" width="1" height="33" fill="#000"/><rect x="788" y="355" width="5" height="18" fill="#000"/>
<rect x="798" y="359" width="1" height="79" fill="#000"/><rect x="796" y="372" width="5" height="57" fill="#000"/>
<rect x="806" y="427" width="1" height="39" fill="#000"/><rect x="804" y="427" width="5" height="22" fill="#000"/>
<rect x="814" y="429" width="1" height="20" fill="#000"/><rect x="812" y="436" width="5" height="13" fill="#000"/><rect x="813" y="437" width="3" height="11" fill="#fff"/>
<rect x="822" y="431" width="1" height="72" fill="#000"/><rect x="820" y="436" width="5" height="43" fill="#000"/>
<rect x="830" y="473" width="1" height="71" fill="#000"/><rect x="828" y="477" width="5" height="59" fill="#000"/>
<rect x="838" y="505" width="1" height="53" fill="#000"/><rect x="836" y="534" width="5" height="19" fill="#000"/>
<rect x="846" y="503" width="1" height="53" fill="#000"/><rect x="844" y="541" width="5" height="12" fill="#000"/><rect x="845" y="542" width="3" height="10" fill="#fff"/>
<rect x="854" y="528" width="1" height="29" fill="#000"/><rect x="852" y="538" width="5" height="3" fill="#000"/><rect x="853" y="539" width="3" height="1" fill="#fff"/>
<rect x="862" y="540" width="1" height="30" fill="#000"/><rect x="860" y="543" width="5" height="24" fill="#000"/><rect x="861" y="544" width="3" height="22" fill="#fff"/>
<rect x="870" y="522" width="1" height="26" fill="#000"/><rect x="868" y="531" width="5" height="12" fill="#000"/><rect x="869" y="532" width="3" height="10" fill="#fff"/>
<rect x="878" y="515" width="1" height="34" fill="#000"/><rect x="876" y="531" width="5" height="4" fill="#000"/>
<rect x="886" y="457" width="1" height="89" fill="#000"/><rect x="884" y="473" width="5" height="60" fill="#000"/><rect x="885" y="474" width="3" height="58" fill="#fff"/>
<rect x="894" y="443" width="1" height="45" fill="#000"/><rect x="892" y="448" width="5" height="25" fill="#000"/><rect x="893" y="449" width="3" height="23" fill="#fff"/>
<rect x="902" y="429" width="1" height="26" fill="#000"/><rect x="900" y="431" width="5" height="16" fill="#000"/><rect x="901" y="432" width="3" height="14" fill="#fff"/>
<rect x="910" y="425" width="1" height="12" fill="#000"/><rect x="908" y="428" width="5" height="3" fill="#000"/><rect x="909" y="429" width="3" height="1" fill="#fff"/>
<rect x="918" y="419" width="1" height="13" fill="#000"/><rect x="916" y="422" width="5" height="6" fill="#000"/><rect x="917" y="423" width="3" height="4" fill="#fff"/>
<rect x="926" y="417" width="1" height="47" fill="#000"/><rect x="924" y="420" width="5" height="40" fill="#000"/>
<rect x="934" y="392" width="1" height="68" fill="#000"/><rect x="932" y="449" width="5" height="11" fill="#000"/><rect x="933" y="450" width="3" height="9" fill="#fff"/>
<rect x="942" y="446" width="1" height="39" fill="#000"/><rect x="940" y="449" width="5" height="2" fill="#000"/>
<rect x="950" y="440" width="1" height="25" fill="#000"/><rect x="948" y="449" width="5" height="9" fill="#000"/>
<rect x="958" y="454" width="1" height="80" fill="#000"/><rect x="956" y="457" width="5" height="56" fill="#000"/>
<rect x="966" y="449" width="1" height="100" fill="#000"/><rect x="964" y="465" width="5" height="47" fill="#000"/><rect x="965" y="466" width="3" height="45" fill="#fff"/>
<rect x="974" y="435" width="1" height="48" fill="#000"/><rect x="972" y="442" width="5" height="22" fill="#000"/><rect x="973" y="443" width="3" height="20" fill="#fff"/>
<rect x="982" y="425" width="1" height="63" fill="#000"/><rect x="980" y="442" width="5" height="7" fill="#000"/>
<rect x="990" y="426" width="1" height="47" fill="#000"/><rect x="988" y="448" width="5" height="17" fill="#000"/>
<rect x="998" y="406" width="1" height="62" fill="#000"/><rect x="996" y="406" width="5" height="58" fill="#000"/><rect x="997" y="407" width="3" height="56" fill="#fff"/>
<rect x="1006" y="406" width="1" height="24" fill="#000"/><rect x="1004" y="406" width="5" height="16" fill="#000"/>
<rect x="1014" y="396" width="1" height="27" fill="#000"/><rect x="1012" y="406" width="5" height="16" fill="#000"/><rect x="1013" y="407" width="3" height="14" fill="#fff"/>
<rect x="1022" y="381" width="1" height="27" fill="#000"/><rect x="1020" y="384" width="5" height="22" fill="#000"/><rect x="1021" y="385" width="3" height="20" fill="#fff"/>
<rect x="1030" y="384" width="1" height="72" fill="#000"/><rect x="1028" y="384" width="5" height="66" fill="#000"/>
<rect x="1038" y="411" width="1" height="44" fill="#000"/><rect x="1036" y="418" width="5" height="32" fill="#000"/><rect x="1037" y="419" width="3" height="30" fill="#fff"/>
<rect x="1046" y="406" width="1" height="17" fill="#000"/><rect x="1044" y="415" width="5" height="4" fill="#000"/><rect x="1045" y="416" width="3" height="2" fill="#fff"/>
<rect x="1054" y="403" width="1" height="13" fill="#000"/><rect x="1052" y="406" width="5" height="9" fill="#000"/><rect x="1053" y="407" width="3" height="7" fill="#fff"/>
<rect x="1062" y="397" width="1" height="15" fill="#000"/><rect x="1060" y="403" width="5" height="4" fill="#000"/><rect x="1061" y="404" width="3" height="2" fill="#fff"/>
<rect x="1070" y="381" width="1" height="29" fill="#000"/><rect x="1068" y="403" width="5" height="4" fill="#000"/>
<rect x="1078" y="380" width="1" height="36" fill="#000"/><rect x="1076" y="391" width="5" height="15" fill="#000"/><rect x="1077" y="392" width="3" height="13" fill="#fff"/>
<rect x="1086" y="378" width="1" height="33" fill="#000"/><rect x="1084" y="391" width="5" height="16" fill="#000"/>
<rect x="1094" y="405" width="1" height="17" fill="#000"/><rect x="1092" y="405" width="5" height="5" fill="#000"/>
<rect x="1102" y="418" width="1" height="13" fill="#000"/><rect x="1100" y="421" width="5" height="9" fill="#000"/><rect x="1101" y="422" width="3" height="7" fill="#fff"/>
<rect x="1110" y="417" width="1" height="9" fill="#000"/><rect x="1108" y="418" width="5" height="5" fill="#000"/><rect x="1109" y="419" width="3" height="3" fill="#fff"/>
<rect x="1118" y="416" width="1" height="36" fill="#000"/><rect x="1116" y="419" width="5" height="29" fill="#000"/>
<rect x="1126" y="426" width="1" height="34" fill="#000"/><rect x="1124" y="448" width="5" height="8" fill="#000"/>
<rect x="1134" y="425" width="1" height="33" fill="#000"/><rect x="1132" y="439" width="5" height="17" fill="#000"/><rect x="1133" y="440" width="3" height="15" fill="#fff"/>
<rect x="1142" y="420" width="1" height="23" fill="#000"/><rect x="1140" y="422" width="5" height="15" fill="#000"/><rect x="1141" y="423" width="3" height="13" fill="#fff"/>
<rect x="1150" y="420" width="1" height="11" fill="#000"/><rect x="1148" y="422" width="5" height="2" fill="#000"/>
<rect x="1158" y="398" width="1" height="27" fill="#000"/><rect x="1156" y="415" width="5" height="10" fill="#000"/><rect x="1157" y="416" width="3" height="8" fill="#fff"/>
<rect x="1166" y="408" width="1" height="30" fill="#000"/><rect x="1164" y="413" width="5" height="20" fill="#000"/>
<rect x="1174" y="405" width="1" height="49" fill="#000"/><rect x="1172" y="418" width="5" height="14" fill="#000"/><rect x="1173" y="419" width="3" height="12" fill="#fff"/>
<rect x="1182" y="401" width="1" height="31" fill="#000"/><rect x="1180" y="402" width="5" height="16" fill="#000"/><rect x="1181" y="403" width="3" height="14" fill="#fff"/>
<rect x="1190" y="382" width="1" height="26" fill="#000"/><rect x="1188" y="393" width="5" height="9" fill="#000"/><rect x="1189" y="394" width="3" height="7" fill="#fff"/>
<rect x="1198" y="392" width="1" height="23" fill="#000"/><rect x="1196" y="393" width="5" height="19" fill="#000"/>
<rect x="1206" y="398" width="1" height="13" fill="#000"/><rect x="1204" y="405" width="5" height="5" fill="#000"/><rect x="1205" y="406" width="3" height="3" fill="#fff"/>
<rect x="1214" y="386" width="1" height="22" fill="#000"/><rect x="1212" y="403" width="5" height="3" fill="#000"/>
<rect x="1222" y="404" width="1" height="35" fill="#000"/><rect x="1220" y="406" width="5" height="10" fill="#000"/>
<rect x="1230" y="394" width="1" height="35" fill="#000"/><rect x="1228" y="398" width="5" height="18" fill="#000"/><rect x="1229" y="399" width="3" height="16" fill="#fff"/>
<rect x="1238" y="390" width="1" height="16" fill="#000"/><rect x="1236" y="398" width="5" height="4" fill="#000"/>
<rect x="1246" y="386" width="1" height="24" fill="#000"/><rect x="1244" y="393" width="5" height="9" fill="#000"/><rect x="1245" y="394" width="3" height="7" fill="#fff"/>
<rect x="1254" y="378" width="1" height="17" fill="#000"/><rect x="1252" y="382" width="5" height="11" fill="#000"/><rect x="1253" y="383" width="3" height="9" fill="#fff"/>
<rect x="1262" y="378" width="1" height="14" fill="#000"/><rect x="1260" y="382" width="5" height="5" fill="#000"/>
<rect x="1270" y="359" width="1" height="38" fill="#000"/><rect x="1268" y="369" width="5" height="17" fill="#000"/><rect x="1269" y="370" width="3" height="15" fill="#fff"/>
<rect x="1278" y="347" width="1" height="38" fill="#000"/><rect x="1276" y="354" width="5" height="15" fill="#000"/><rect x="1277" y="355" width="3" height="13" fill="#fff"/>
<rect x="1286" y="332" width="1" height="25" fill="#000"/><rect x="1284" y="349" width="5" height="5" fill="#000"/><rect x="1285" y="350" width="3" height="3" fill="#fff"/>
<rect x="1294" y="329" width="1" height="20" fill="#000"/><rect x="1292" y="337" width="5" height="12" fill="#000"/><rect x="1293" y="338" width="3" height="10" fill="#fff"/>
<rect x="1302" y="329" width="1" height="20" fill="#000"/><rect x="1300" y="335" width="5" height="3" fill="#000"/><rect x="1301" y="336" width="3" height="1" fill="#fff"/>
<rect x="1310" y="320" width="1" height="22" fill="#000"/><rect x="1308" y="330" width="5" height="5" fill="#000"/><rect x="1309" y="331" width="3" height="3" fill="#fff"/>
<rect x="1318" y="303" width="1" height="75" fill="#000"/><rect x="1316" y="328" width="5" height="44" fill="#000"/>
<rect x="1326" y="352" width="1" height="35" fill="#000"/><rect x="1324" y="372" width="5" height="8" fill="#000"/><rect x="1325" y="373" width="3" height="6" fill="#fff"/>
<rect x="1334" y="372" width="1" height="21" fill="#000"/><rect x="1332" y="376" width="5" height="11" fill="#000"/>
<rect x="1342" y="390" width="1" height="12" fill="#000"/><rect x="1340" y="392" width="5" height="10" fill="#000"/><rect x="1341" y="393" width="3" height="8" fill="#fff"/>
<rect x="1350" y="388" width="1" height="11" fill="#000"/><rect x="1348" y="391" width="5" height="3" fill="#000"/>
<rect x="1358" y="392" width="1" height="31" fill="#000"/><rect x="1356" y="392" width="5" height="29" fill="#000"/>
<rect x="1366" y="393" width="1" height="35" fill="#000"/><rect x="1364" y="398" width="5" height="23" fill="#000"/><rect x="1365" y="399" width="3" height="21" fill="#fff"/>
<rect x="1374" y="390" width="1" height="22" fill="#000"/><rect x="1372" y="398" width="5" height="5" fill="#000"/>
<rect x="1382" y="395" width="1" height="9" fill="#000"/><rect x="1380" y="396" width="5" height="5" fill="#000"/><rect x="1381" y="397" width="3" height="3" fill="#fff"/>
<rect x="1390" y="388" width="1" height="10" fill="#000"/><rect x="1388" y="390" width="5" height="8" fill="#000"/><rect x="1389" y="391" width="3" height="6" fill="#fff"/>
</g>
<g shape-rendering="crispEdges">
<rect x="-3" y="336" width="6" height="6" fill="#ff0000"/><rect x="-1" y="338" width="2" height="2" fill="#fff"/>
<rect x="1611" y="336" width="6" height="6" fill="#ff0000"/><rect x="1613" y="338" width="2" height="2" fill="#fff"/>
<rect x="-3" y="354" width="6" height="6" fill="#ff0000"/><rect x="-1" y="356" width="2" height="2" fill="#fff"/>
<rect x="1611" y="354" width="6" height="6" fill="#ff0000"/><rect x="1613" y="356" width="2" height="2" fill="#fff"/>
<rect x="-3" y="374" width="6" height="6" fill="#22c322"/><rect x="-1" y="376" width="2" height="2" fill="#fff"/>
<rect x="1611" y="374" width="6" height="6" fill="#22c322"/><rect x="1613" y="376" width="2" height="2" fill="#fff"/>
<rect x="-3" y="412" width="6" height="6" fill="#0000ff"/><rect x="-1" y="414" width="2" height="2" fill="#fff"/>
<rect x="1611" y="412" width="6" height="6" fill="#0000ff"/><rect x="1613" y="414" width="2" height="2" fill="#fff"/>
<rect x="1318" y="370" width="108" height="12" fill="#00ff00"/>
<rect x="1495" y="377" width="8" height="1" fill="#ff0000"/>
<rect x="1502" y="375" width="4" height="5" fill="#ff0000"/><rect x="1503" y="376" width="2" height="3" fill="#fff"/>
<rect x="1505" y="365" width="74" height="25" fill="#ff0000"/><rect x="1506" y="366" width="72" height="23" fill="#fff"/>
</g>
<polygon points="1,41.7 8.5,41.7 4.75,36.8" fill="#000"/>
<polygon points="1401,31 1411,31 1406,36" fill="#c0c0c0"/>
</g>
<g clip-path="url(#cd)">
<g shape-rendering="crispEdges" fill="#c0c0c0">
<rect x="6" y="662" width="1" height="29"/>
<rect x="14" y="663" width="1" height="28"/>
<rect x="22" y="665" width="1" height="26"/>
<rect x="30" y="667" width="1" height="24"/>
<rect x="38" y="668" width="1" height="23"/>
<rect x="46" y="670" width="1" height="21"/>
<rect x="54" y="669" width="1" height="22"/>
<rect x="62" y="668" width="1" height="23"/>
<rect x="70" y="666" width="1" height="25"/>
<rect x="78" y="668" width="1" height="23"/>
<rect x="86" y="671" width="1" height="20"/>
<rect x="94" y="675" width="1" height="16"/>
<rect x="102" y="675" width="1" height="16"/>
<rect x="110" y="674" width="1" height="17"/>
<rect x="118" y="673" width="1" height="18"/>
<rect x="126" y="672" width="1" height="19"/>
<rect x="134" y="669" width="1" height="22"/>
<rect x="142" y="667" width="1" height="24"/>
<rect x="150" y="669" width="1" height="22"/>
<rect x="158" y="669" width="1" height="22"/>
<rect x="166" y="668" width="1" height="23"/>
<rect x="174" y="640" width="1" height="51"/>
<rect x="182" y="616" width="1" height="75"/>
<rect x="190" y="603" width="1" height="88"/>
<rect x="198" y="595" width="1" height="96"/>
<rect x="206" y="598" width="1" height="93"/>
<rect x="214" y="601" width="1" height="90"/>
<rect x="222" y="602" width="1" height="89"/>
<rect x="230" y="602" width="1" height="89"/>
<rect x="238" y="602" width="1" height="89"/>
<rect x="246" y="604" width="1" height="87"/>
<rect x="254" y="608" width="1" height="83"/>
<rect x="262" y="611" width="1" height="80"/>
<rect x="270" y="622" width="1" height="69"/>
<rect x="278" y="628" width="1" height="63"/>
<rect x="286" y="637" width="1" height="54"/>
<rect x="294" y="649" width="1" height="42"/>
<rect x="302" y="664" width="1" height="27"/>
<rect x="310" y="679" width="1" height="12"/>
<rect x="318" y="689" width="1" height="2"/>
<rect x="326" y="690" width="1" height="10"/>
<rect x="334" y="690" width="1" height="20"/>
<rect x="342" y="690" width="1" height="25"/>
<rect x="350" y="690" width="1" height="30"/>
<rect x="358" y="690" width="1" height="33"/>
<rect x="366" y="690" width="1" height="37"/>
<rect x="374" y="690" width="1" height="37"/>
<rect x="382" y="690" width="1" height="35"/>
<rect x="390" y="690" width="1" height="39"/>
<rect x="398" y="690" width="1" height="46"/>
<rect x="406" y="690" width="1" height="51"/>
<rect x="414" y="690" width="1" height="55"/>
<rect x="422" y="690" width="1" height="55"/>
<rect x="430" y="690" width="1" height="57"/>
<rect x="438" y="690" width="1" height="57"/>
<rect x="446" y="690" width="1" height="52"/>
<rect x="454" y="690" width="1" height="51"/>
<rect x="462" y="690" width="1" height="51"/>
<rect x="470" y="690" width="1" height="50"/>
<rect x="478" y="690" width="1" height="48"/>
<rect x="486" y="690" width="1" height="49"/>
<rect x="494" y="690" width="1" height="53"/>
<rect x="502" y="690" width="1" height="57"/>
<rect x="510" y="690" width="1" height="57"/>
<rect x="518" y="690" width="1" height="57"/>
<rect x="526" y="690" width="1" height="57"/>
<rect x="534" y="690" width="1" height="55"/>
<rect x="542" y="690" width="1" height="52"/>
<rect x="550" y="690" width="1" height="51"/>
<rect x="558" y="690" width="1" height="51"/>
<rect x="566" y="690" width="1" height="46"/>
<rect x="574" y="690" width="1" height="39"/>
<rect x="582" y="690" width="1" height="33"/>
<rect x="590" y="690" width="1" height="29"/>
<rect x="598" y="690" width="1" height="23"/>
<rect x="606" y="690" width="1" height="17"/>
<rect x="614" y="690" width="1" height="13"/>
<rect x="622" y="690" width="1" height="11"/>
<rect x="630" y="690" width="1" height="5"/>
<rect x="638" y="688" width="1" height="3"/>
<rect x="646" y="680" width="1" height="11"/>
<rect x="654" y="676" width="1" height="15"/>
<rect x="662" y="673" width="1" height="18"/>
<rect x="670" y="672" width="1" height="19"/>
<rect x="678" y="670" width="1" height="21"/>
<rect x="686" y="670" width="1" height="21"/>
<rect x="694" y="671" width="1" height="20"/>
<rect x="702" y="674" width="1" height="17"/>
<rect x="710" y="677" width="1" height="14"/>
<rect x="718" y="680" width="1" height="11"/>
<rect x="726" y="681" width="1" height="10"/>
<rect x="734" y="678" width="1" height="13"/>
<rect x="742" y="672" width="1" height="19"/>
<rect x="750" y="668" width="1" height="23"/>
<rect x="758" y="664" width="1" height="27"/>
<rect x="766" y="660" width="1" height="31"/>
<rect x="774" y="662" width="1" height="29"/>
<rect x="782" y="661" width="1" height="30"/>
<rect x="790" y="663" width="1" height="28"/>
<rect x="798" y="670" width="1" height="21"/>
<rect x="806" y="678" width="1" height="13"/>
<rect x="814" y="684" width="1" height="7"/>
<rect x="822" y="690" width="1" height="1"/>
<rect x="830" y="690" width="1" height="15"/>
<rect x="838" y="690" width="1" height="25"/>
<rect x="846" y="690" width="1" height="33"/>
<rect x="854" y="690" width="1" height="39"/>
<rect x="862" y="690" width="1" height="43"/>
<rect x="870" y="690" width="1" height="43"/>
<rect x="878" y="690" width="1" height="45"/>
<rect x="886" y="690" width="1" height="39"/>
<rect x="894" y="690" width="1" height="32"/>
<rect x="902" y="690" width="1" height="24"/>
<rect x="910" y="690" width="1" height="17"/>
<rect x="918" y="690" width="1" height="10"/>
<rect x="926" y="690" width="1" height="9"/>
<rect x="934" y="690" width="1" height="7"/>
<rect x="942" y="690" width="1" height="6"/>
<rect x="950" y="690" width="1" height="5"/>
<rect x="958" y="690" width="1" height="10"/>
<rect x="966" y="690" width="1" height="9"/>
<rect x="974" y="690" width="1" height="6"/>
<rect x="982" y="690" width="1" height="4"/>
<rect x="990" y="690" width="1" height="3"/>
<rect x="998" y="689" width="1" height="2"/>
<rect x="1006" y="686" width="1" height="5"/>
<rect x="1014" y="682" width="1" height="9"/>
<rect x="1022" y="677" width="1" height="14"/>
<rect x="1030" y="679" width="1" height="12"/>
<rect x="1038" y="678" width="1" height="13"/>
<rect x="1046" y="678" width="1" height="13"/>
<rect x="1054" y="676" width="1" height="15"/>
<rect x="1062" y="675" width="1" height="16"/>
<rect x="1070" y="674" width="1" height="17"/>
<rect x="1078" y="673" width="1" height="18"/>
<rect x="1086" y="673" width="1" height="18"/>
<rect x="1094" y="675" width="1" height="16"/>
<rect x="1102" y="676" width="1" height="15"/>
<rect x="1110" y="678" width="1" height="13"/>
<rect x="1118" y="682" width="1" height="9"/>
<rect x="1126" y="686" width="1" height="5"/>
<rect x="1134" y="688" width="1" height="3"/>
<rect x="1142" y="687" width="1" height="4"/>
<rect x="1150" y="687" width="1" height="4"/>
<rect x="1158" y="686" width="1" height="5"/>
<rect x="1166" y="688" width="1" height="3"/>
<rect x="1174" y="687" width="1" height="4"/>
<rect x="1182" y="685" width="1" height="6"/>
<rect x="1190" y="683" width="1" height="8"/>
<rect x="1198" y="683" width="1" height="8"/>
<rect x="1206" y="682" width="1" height="9"/>
<rect x="1214" y="682" width="1" height="9"/>
<rect x="1222" y="683" width="1" height="8"/>
<rect x="1230" y="682" width="1" height="9"/>
<rect x="1238" y="682" width="1" height="9"/>
<rect x="1246" y="681" width="1" height="10"/>
<rect x="1254" y="679" width="1" height="12"/>
<rect x="1262" y="678" width="1" height="13"/>
<rect x="1270" y="676" width="1" height="15"/>
<rect x="1278" y="673" width="1" height="18"/>
<rect x="1286" y="670" width="1" height="21"/>
<rect x="1294" y="667" width="1" height="24"/>
<rect x="1302" y="664" width="1" height="27"/>
<rect x="1310" y="662" width="1" height="29"/>
<rect x="1318" y="665" width="1" height="26"/>
<rect x="1326" y="668" width="1" height="23"/>
<rect x="1334" y="672" width="1" height="19"/>
<rect x="1342" y="676" width="1" height="15"/>
<rect x="1350" y="679" width="1" height="12"/>
<rect x="1358" y="684" width="1" height="7"/>
<rect x="1366" y="686" width="1" height="5"/>
<rect x="1374" y="688" width="1" height="3"/>
<rect x="1382" y="690" width="1" height="1"/>
<rect x="1390" y="690" width="1" height="1"/>
</g>
<polyline points="-2.0,651.0 0.0,651.3 5.4,653.0 18.0,657.6 30.6,660.3 45.0,663.0 59.5,664.8 77.5,666.0 93.7,668.4 108.0,670.2 126.2,670.2 144.2,671.1 158.6,671.1 167.7,669.3 178.5,662.1 191.0,651.3 207.3,634.2 225.3,617.0 239.8,605.3 252.4,601.7 261.4,602.3 274.0,606.2 288.4,614.3 299.0,620.6 309.8,633.3 320.6,645.0 333.3,662.0 352.2,686.4 362.0,698.2 374.7,709.9 387.3,717.6 398.2,723.4 416.2,731.5 430.6,735.7 445.0,739.3 461.3,742.3 470.3,743.2 488.3,742.3 502.7,741.4 515.3,742.0 529.8,743.6 546.0,744.5 560.4,744.5 569.4,743.2 578.4,739.6 583.6,738.2 596.2,733.3 608.8,726.1 626.9,715.3 637.7,709.0 644.9,703.6 655.7,696.4 668.3,688.3 681.0,682.3 695.4,675.6 709.8,673.5 729.6,673.5 735.0,674.4 742.2,674.4 749.5,673.5 760.3,673.3 771.0,671.5 782.0,668.4 792.7,667.0 800.0,665.7 809.0,665.7 818.0,668.4 825.0,671.1 836.0,678.3 846.8,687.3 861.2,700.9 872.0,709.9 877.2,715.3 884.4,720.2 893.4,723.8 902.5,725.2 911.5,724.3 924.0,718.9 942.0,709.9 960.0,701.4 974.6,698.2 999.8,695.5 1014.2,691.9 1028.6,688.3 1043.0,683.7 1057.5,680.1 1068.3,677.4 1086.3,675.1 1104.4,674.4 1113.4,674.4 1129.6,676.5 1140.4,679.2 1158.4,681.9 1178.0,684.6 1196.0,685.5 1203.3,684.1 1221.3,683.7 1239.3,682.3 1257.3,681.0 1271.8,678.9 1286.2,677.4 1293.4,674.7 1302.4,673.8 1309.6,671.5 1322.2,668.4 1334.9,668.4 1345.7,667.5 1356.5,670.2 1365.5,672.0 1376.3,676.5 1385.3,678.7 1389.8,680.1" fill="none" stroke="#ff0000" stroke-width="1" stroke-dasharray="3,3" shape-rendering="crispEdges"/>
</g>
<g clip-path="url(#cr)">
<line x1="0" y1="793.5" x2="1617" y2="793.5" stroke="#c0c0c0" stroke-width="1" stroke-dasharray="3,3" stroke-dashoffset="1" shape-rendering="crispEdges"/>
<line x1="0" y1="844.5" x2="1617" y2="844.5" stroke="#c0c0c0" stroke-width="1" stroke-dasharray="3,3" stroke-dashoffset="1" shape-rendering="crispEdges"/>
<line x1="0" y1="905.5" x2="1617" y2="905.5" stroke="#c0c0c0" stroke-width="1" stroke-dasharray="3,3" stroke-dashoffset="1" shape-rendering="crispEdges"/>
<polyline points="-2.0,820.4 6.0,826.3 14.0,826.3 22.0,829.4 30.0,832.5 38.0,828.1 46.0,834.3 54.0,822.6 62.0,819.1 70.0,809.2 78.0,841.5 86.0,839.3 94.0,847.8 102.0,837.9 110.0,830.3 118.0,828.5 126.0,828.5 134.0,822.7 142.0,820.4 150.0,836.6 158.0,832.1 166.0,825.8 174.0,786.5 182.0,785.2 190.0,798.8 198.0,804.7 206.0,823.5 214.0,823.5 222.0,820.4 230.0,816.4 238.0,816.4 246.0,819.5 254.0,823.5 262.0,821.3 270.0,839.3 278.0,835.4 286.0,841.1 294.0,850.1 302.0,862.4 310.0,865.5 318.0,863.3 326.0,867.3 334.0,869.4 342.0,865.1 350.0,867.6 358.0,864.2 366.0,865.5 374.0,864.2 382.0,856.4 390.0,867.3 398.0,876.3 406.0,878.4 414.0,873.6 422.0,873.2 430.0,874.5 438.0,872.3 446.0,860.4 454.0,866.4 462.0,867.3 470.0,868.5 478.0,866.4 486.0,873.2 494.0,883.5 502.0,878.1 510.0,876.3 518.0,875.0 526.0,879.3 534.0,870.3 542.0,867.3 550.0,868.5 558.0,873.9 566.0,856.4 574.0,846.2 582.0,844.4 590.0,851.4 598.0,838.4 606.0,836.3 614.0,840.2 622.0,843.5 630.0,831.8 638.0,823.1 646.0,818.2 654.0,826.3 662.0,826.3 670.0,828.5 678.0,828.5 686.0,827.2 694.0,838.4 702.0,845.3 710.0,844.4 718.0,847.8 726.0,844.4 734.0,824.9 742.0,815.3 750.0,817.3 758.0,815.3 766.0,813.2 774.0,830.3 782.0,826.3 790.0,833.4 798.0,854.3 806.0,860.4 814.0,855.5 822.0,866.4 830.0,878.4 838.0,880.4 846.0,876.3 854.0,875.4 862.0,876.6 870.0,870.3 878.0,871.4 886.0,847.4 894.0,840.2 902.0,835.4 910.0,833.9 918.0,832.1 926.0,846.2 934.0,842.4 942.0,842.4 950.0,844.7 958.0,862.4 966.0,846.2 974.0,840.6 982.0,841.5 990.0,847.1 998.0,831.2 1006.0,835.4 1014.0,832.5 1022.0,826.3 1030.0,846.5 1038.0,838.4 1046.0,837.2 1054.0,835.4 1062.0,835.4 1070.0,835.4 1078.0,831.2 1086.0,837.2 1094.0,838.4 1102.0,842.4 1110.0,842.4 1118.0,852.3 1126.0,854.3 1134.0,847.4 1142.0,841.5 1150.0,842.4 1158.0,838.4 1166.0,846.2 1174.0,840.6 1182.0,834.3 1190.0,831.6 1198.0,840.6 1206.0,837.5 1214.0,838.4 1222.0,843.5 1230.0,834.3 1238.0,837.5 1246.0,833.4 1254.0,829.4 1262.0,831.2 1270.0,824.4 1278.0,818.2 1286.0,816.2 1294.0,812.3 1302.0,811.4 1310.0,810.5 1318.0,837.2 1326.0,839.3 1334.0,845.3 1342.0,848.3 1350.0,849.2 1358.0,862.4 1366.0,849.2 1374.0,851.4 1382.0,848.3 1390.0,845.3" fill="none" stroke="#1e90ff" stroke-width="1.1" shape-rendering="crispEdges"/>
</g>
<g shape-rendering="crispEdges" fill="#000">
<rect x="1618" y="52" width="2" height="1"/>
<rect x="1618" y="85" width="2" height="1"/>
<rect x="1618" y="118" width="2" height="1"/>
<rect x="1618" y="151" width="2" height="1"/>
<rect x="1618" y="184" width="2" height="1"/>
<rect x="1618" y="217" width="2" height="1"/>
<rect x="1618" y="250" width="2" height="1"/>
<rect x="1618" y="283" width="2" height="1"/>
<rect x="1618" y="316" width="2" height="1"/>
<rect x="1618" y="349" width="2" height="1"/>
<rect x="1618" y="382" width="2" height="1"/>
<rect x="1618" y="448" width="2" height="1"/>
<rect x="1618" y="481" width="2" height="1"/>
<rect x="1618" y="514" width="2" height="1"/>
<rect x="1618" y="547" width="2" height="1"/>
<rect x="1618" y="580" width="2" height="1"/>
<rect x="1618" y="754" width="1" height="1"/>
<rect x="1618" y="759" width="1" height="1"/>
<rect x="1618" y="586" width="1" height="1"/>
<rect x="1618" y="690" width="1" height="1"/>
<rect x="-2" y="932" width="1" height="3"/>
<rect x="62" y="932" width="1" height="3"/>
<rect x="126" y="932" width="1" height="3"/>
<rect x="190" y="932" width="1" height="3"/>
<rect x="254" y="932" width="1" height="3"/>
<rect x="318" y="932" width="1" height="3"/>
<rect x="382" y="932" width="1" height="3"/>
<rect x="446" y="932" width="1" height="3"/>
<rect x="510" y="932" width="1" height="3"/>
<rect x="574" y="932" width="1" height="3"/>
<rect x="638" y="932" width="1" height="3"/>
<rect x="702" y="932" width="1" height="3"/>
<rect x="766" y="932" width="1" height="3"/>
<rect x="830" y="932" width="1" height="3"/>
<rect x="894" y="932" width="1" height="3"/>
<rect x="958" y="932" width="1" height="3"/>
<rect x="1022" y="932" width="1" height="3"/>
<rect x="1086" y="932" width="1" height="3"/>
<rect x="1150" y="932" width="1" height="3"/>
<rect x="1214" y="932" width="1" height="3"/>
<rect x="1278" y="932" width="1" height="3"/>
<rect x="1342" y="932" width="1" height="3"/>
</g>
<g shape-rendering="crispEdges">
<rect x="1663" y="28" width="1" height="922" fill="#e3e3e3"/>
</g></svg>
<div id="tx">
<div class="t ax" style="left:1623px;top:47px;">148.010</div>
<div class="t ax" style="left:1623px;top:80px;">147.550</div>
<div class="t ax" style="left:1623px;top:113px;">147.090</div>
<div class="t ax" style="left:1623px;top:146px;">146.630</div>
<div class="t ax" style="left:1623px;top:179px;">146.180</div>
<div class="t ax" style="left:1623px;top:212px;">145.720</div>
<div class="t ax" style="left:1623px;top:245px;">145.260</div>
<div class="t ax" style="left:1623px;top:278px;">144.800</div>
<div class="t ax" style="left:1623px;top:311px;">144.340</div>
<div class="t ax" style="left:1623px;top:344px;">143.880</div>
<div class="t ax" style="left:1623px;top:377px;">143.420</div>
<div class="t ax" style="left:1623px;top:443px;">142.500</div>
<div class="t ax" style="left:1623px;top:476px;">142.040</div>
<div class="t ax" style="left:1623px;top:509px;">141.580</div>
<div class="t ax" style="left:1623px;top:542px;">141.120</div>
<div class="t ax" style="left:1623px;top:575px;">140.660</div>
<div class="t ax wh" style="left:1619px;top:333px;background:#ff0000">144.020</div>
<div class="t ax wh" style="left:1619px;top:351px;background:#ff0000">143.770</div>
<div class="t ax wh" style="left:1619px;top:371px;background:#32cd32">143.492</div>
<div class="t ax wh" style="left:1619px;top:385px;background:#000">143.303</div>
<div class="t ax wh" style="left:1619px;top:409px;background:#0000ff">142.964</div>
<div class="t ax wh" style="left:1619px;top:433px;background:#0000ff">142.631</div>
<div class="t ax" style="left:1621px;top:587px;">1.1277</div>
<div class="t ax" style="left:1621px;top:685px;">0.00</div>
<div class="t ax" style="left:1621px;top:744px;">-0.703</div>
<div class="t ax" style="left:1620px;top:759px;">100</div>
<div class="t ax" style="left:1620px;top:788px;">80</div>
<div class="t ax" style="left:1620px;top:839px;">50</div>
<div class="t ax" style="left:1620px;top:900px;">15</div>
<div class="t ax" style="left:1620px;top:919px;">0</div>
<div class="t ax tm" style="left:-3px;top:935px;">9 Dec 2019</div>
<div class="t ax tm" style="left:61px;top:935px;">10 Dec 12:00</div>
<div class="t ax tm" style="left:125px;top:935px;">11 Dec 20:00</div>
<div class="t ax tm" style="left:189px;top:935px;">13 Dec 04:00</div>
<div class="t ax tm" style="left:253px;top:935px;">16 Dec 12:00</div>
<div class="t ax tm" style="left:317px;top:935px;">17 Dec 20:00</div>
<div class="t ax tm" style="left:381px;top:935px;">19 Dec 04:00</div>
<div class="t ax tm" style="left:445px;top:935px;">20 Dec 12:00</div>
<div class="t ax tm" style="left:509px;top:935px;">23 Dec 20:00</div>
<div class="t ax tm" style="left:573px;top:935px;">26 Dec 00:00</div>
<div class="t ax tm" style="left:637px;top:935px;">27 Dec 08:00</div>
<div class="t ax tm" style="left:701px;top:935px;">30 Dec 16:00</div>
<div class="t ax tm" style="left:765px;top:935px;">1 Jan 23:00</div>
<div class="t ax tm" style="left:829px;top:935px;">3 Jan 04:00</div>
<div class="t ax tm" style="left:893px;top:935px;">6 Jan 12:00</div>
<div class="t ax tm" style="left:957px;top:935px;">7 Jan 20:00</div>
<div class="t ax tm" style="left:1021px;top:935px;">9 Jan 04:00</div>
<div class="t ax tm" style="left:1085px;top:935px;">10 Jan 12:00</div>
<div class="t ax tm" style="left:1149px;top:935px;">13 Jan 20:00</div>
<div class="t ax tm" style="left:1213px;top:935px;">15 Jan 04:00</div>
<div class="t ax tm" style="left:1277px;top:935px;">16 Jan 12:00</div>
<div class="t ax tm" style="left:1341px;top:935px;">19 Jan 23:00</div>
<div class="t ax ind" style="left:2px;top:589px;">MACD(12,26,9) 0.0124 0.1042</div>
<div class="t ax ind" style="left:2px;top:761px;">RSI(14) 49.9316</div>
<div class="t ax ttl" style="left:13px;top:33.4px;">GBPJPY-,H4&nbsp; 143.217 143.344 143.213 143.303</div>
<div class="t big" style="left:1507px;top:365px">143.492</div>
<div class="t zh" style="left:1444px;top:462px">多空转折点</div>
<div class="tri"></div>
</div>
<div id="oc">
<div class="sell"><span>SELL</span></div>
<div class="buy"><span>BUY</span></div>
<div class="spin"><div class="sb l"><i class="dn"></i></div><div class="val">1.00</div><div class="sb r"><i class="up"></i></div></div>
<div class="pl"><span class="sm">143</span><span class="bg">30</span><span class="sp">3</span></div>
<div class="prr"><span class="sm">143</span><span class="bg">39</span><span class="sp">9</span></div>
<div class="ul" style="left:5px"></div><div class="ul" style="left:172px"></div>
</div>

</body></html>
